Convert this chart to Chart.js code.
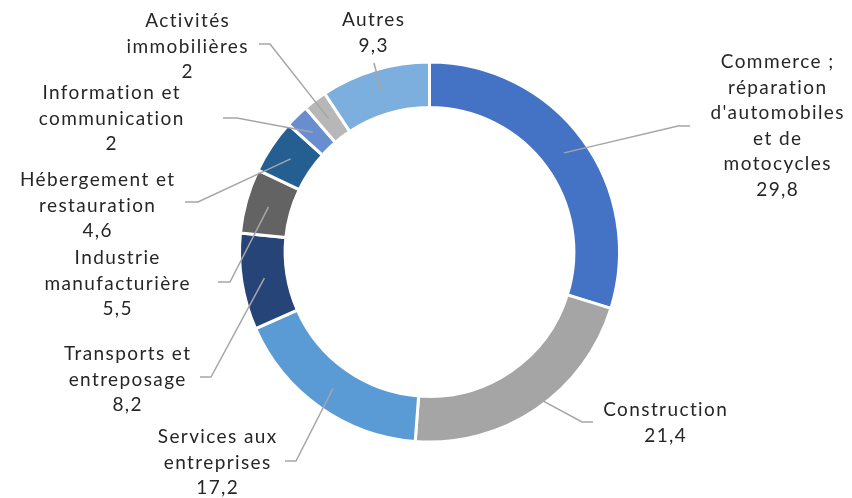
<!DOCTYPE html>
<html>
<head>
<meta charset="utf-8">
<script src="https://cdn.jsdelivr.net/npm/chart.js@4"></script>
<style>
  html, body { margin: 0; padding: 0; background: #fff; }
  #wrap { width: 852px; height: 498px; }
</style>
</head>
<body>
<div id="wrap"><canvas id="myChart" width="852" height="498"></canvas></div>
<script>
// Data
const categories = [
    ['Commerce ;', 'réparation', "d'automobiles", 'et de', 'motocycles'],
    ['Construction'],
    ['Services aux', 'entreprises'],
    ['Transports et', 'entreposage'],
    ['Industrie', 'manufacturière'],
    ['Hébergement et', 'restauration'],
    ['Information et', 'communication'],
    ['Activités', 'immobilières'],
    ['Autres']
];
const values = [29.8, 21.4, 17.2, 8.2, 5.5, 4.6, 2, 2, 9.3];
const colors = ['#4472C4', '#A5A5A5', '#5B9BD5', '#264478', '#636363', '#255E91', '#698ED0', '#B7B7B7', '#7CAFDD'];

// Label layout (text centre x, first line y, leader end x, leader y, elbow length)
const labelLayout = [
    [777, 62, 690, 126, -12],
    [665, 410, 593, 422, -11],
    [217, 437, 285, 461, 11],
    [127, 354, 200, 377, 11],
    [117, 258, 218, 282, 12],
    [97, 180, 185, 202, 13],
    [111, 93, 223, 118, 14],
    [187, 21, 259, 44, 11],
    [373, 20, 374, 63, 0]
];

const FONT = '19px Lato, "Open Sans", sans-serif';
const SPACING = 1.4;
const LINE_H = 25.5;

const leaderLabels = {
    id: 'leaderLabels',
    afterDatasetsDraw(chart) {
        const ctx = chart.ctx;
        const arcs = chart.getDatasetMeta(0).data;
        ctx.save();
        arcs.forEach((arc, i) => {
            const [lx, ly, ex, ey, el] = labelLayout[i];
            const mid = (arc.startAngle + arc.endAngle) / 2;
            const r = (arc.innerRadius + arc.outerRadius) / 2;
            const px = arc.x + Math.cos(mid) * r;
            const py = arc.y + Math.sin(mid) * r;

            ctx.strokeStyle = '#A6A6A6';
            ctx.lineWidth = 1.5;
            ctx.beginPath();
            ctx.moveTo(ex, ey);
            if (el) ctx.lineTo(ex + el, ey);
            ctx.lineTo(px, py);
            ctx.stroke();

            ctx.fillStyle = '#262626';
            ctx.font = FONT;
            ctx.letterSpacing = SPACING + 'px';
            ctx.textAlign = 'center';
            ctx.textBaseline = 'middle';
            const lines = categories[i].concat([String(values[i]).replace('.', ',')]);
            // letterSpacing adds trailing space, shift half of it back
            lines.forEach((t, k) => ctx.fillText(t, lx + SPACING / 2, ly + k * LINE_H));
        });
        ctx.restore();
    }
};

new Chart(document.getElementById('myChart'), {
    type: 'doughnut',
    data: {
        labels: categories,
        datasets: [{
            data: values,
            backgroundColor: colors,
            borderColor: '#ffffff',
            borderWidth: 3
        }]
    },
    options: {
        responsive: false,
        animation: false,
        cutout: '76%',
        layout: { padding: { top: 60, bottom: 54, left: 238, right: 231 } },
        plugins: {
            legend: { display: false },
            tooltip: { enabled: false }
        }
    },
    plugins: [leaderLabels]
});
</script>
</body>
</html>
